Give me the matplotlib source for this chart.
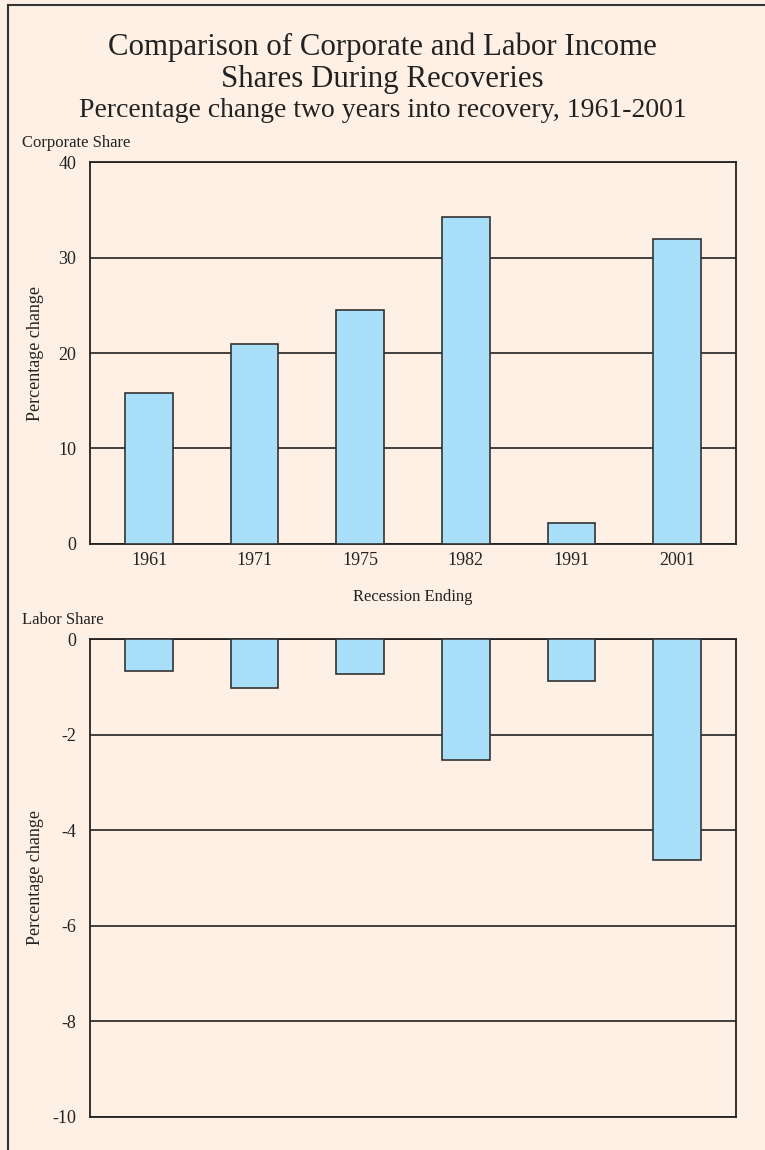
import numpy as np
import matplotlib.pyplot as plt
from matplotlib.lines import Line2D

plt.rcParams['font.family'] = ['Liberation Serif', 'DejaVu Serif']
plt.rcParams['axes.unicode_minus'] = False

# data
years = ['1961', '1971', '1975', '1982', '1991', '2001']
corporate_share = [15.8, 20.9, 24.5, 34.3, 2.2, 32.0]
labor_share = [-0.67, -1.02, -0.74, -2.53, -0.87, -4.62]

bg = '#fef0e4'
bar_color = '#aadff9'
edge = '#333333'
txt = '#222222'

fig = plt.figure(figsize=(7.65, 11.5), dpi=100, facecolor=bg)

ax1 = fig.add_axes([0.1176, 0.527, 0.8445, 0.332], facecolor=bg)
ax2 = fig.add_axes([0.1176, 0.0287, 0.8445, 0.4156], facecolor=bg)

x = np.arange(len(years))

# top panel: corporate share
ax1.bar(x, corporate_share, width=0.45, color=bar_color, edgecolor=edge, linewidth=1.2, zorder=3)
ax1.set_ylim(0, 40)
ax1.set_yticks([0, 10, 20, 30, 40])
ax1.set_xlim(-0.56, 5.56)
ax1.set_xticks(x)
ax1.set_xticklabels(years)
ax1.set_xlabel('Recession Ending', fontsize=12, labelpad=14, color=txt)

# bottom panel: labor share
ax2.bar(x, labor_share, width=0.45, color=bar_color, edgecolor=edge, linewidth=1.2, zorder=3)
ax2.set_ylim(-10, 0)
ax2.set_yticks([0, -2, -4, -6, -8, -10])
ax2.set_xlim(-0.56, 5.56)
ax2.set_xticks([])

for ax in (ax1, ax2):
    ax.yaxis.grid(True, color=txt, linewidth=1.2, zorder=1)
    ax.tick_params(axis='y', length=0, pad=10, labelsize=13, labelcolor=txt)
    ax.tick_params(axis='x', length=0, pad=6, labelsize=13, labelcolor=txt)
    for s in ax.spines.values():
        s.set_color(txt)
        s.set_linewidth(1.3)

# y labels placed at the same x for both panels
fig.text(0.046, 0.693, 'Percentage change', rotation=90, ha='center', va='center', fontsize=13, color=txt)
fig.text(0.046, 0.237, 'Percentage change', rotation=90, ha='center', va='center', fontsize=13, color=txt)

fig.text(0.5, 0.9585, 'Comparison of Corporate and Labor Income', ha='center', va='center', fontsize=22.2, color=txt)
fig.text(0.5, 0.931, 'Shares During Recoveries', ha='center', va='center', fontsize=22.2, color=txt)
fig.text(0.5, 0.9035, 'Percentage change two years into recovery, 1961-2001', ha='center', va='center', fontsize=20, color=txt)
fig.text(0.029, 0.876, 'Corporate Share', ha='left', va='center', fontsize=12, color=txt)
fig.text(0.029, 0.461, 'Labor Share', ha='left', va='center', fontsize=12, color=txt)

# frame lines on left and top
fig.add_artist(Line2D([0.011, 0.011], [0, 0.9955], transform=fig.transFigure, color='#333333', linewidth=1.5))
fig.add_artist(Line2D([0.011, 1.0], [0.9955, 0.9955], transform=fig.transFigure, color='#333333', linewidth=1.5))

fig.savefig('out.png', dpi=100, facecolor=bg)
